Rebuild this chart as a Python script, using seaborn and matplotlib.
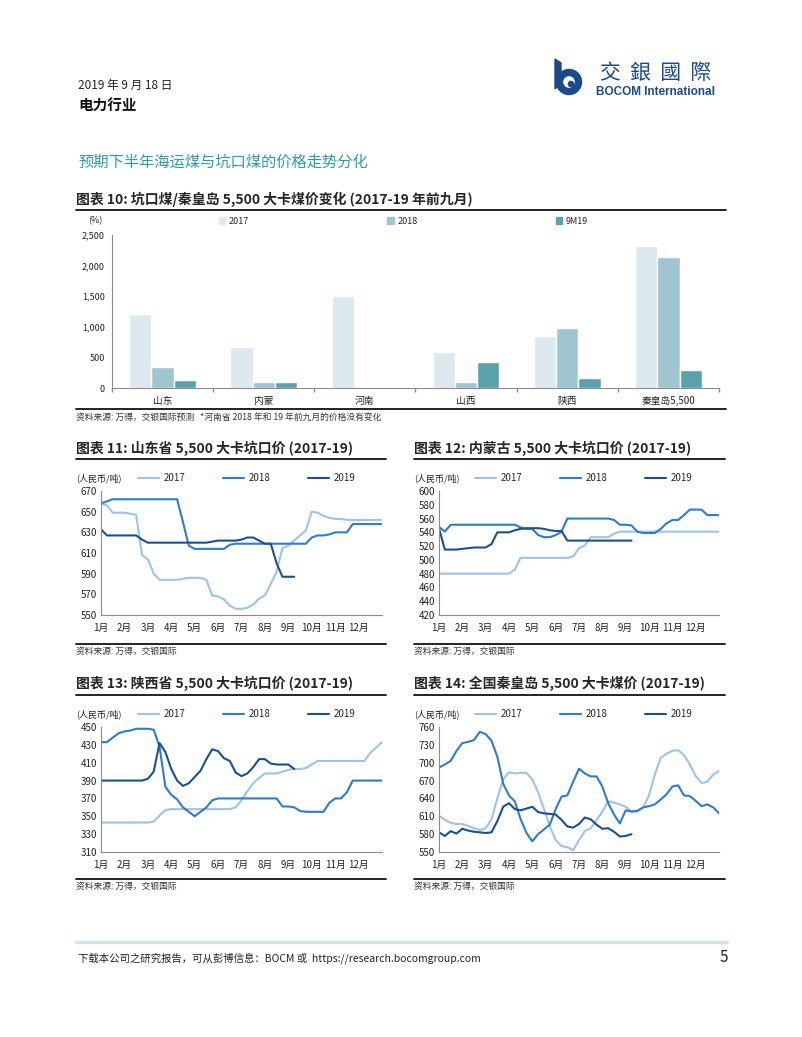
import numpy as np
import pandas as pd
import seaborn as sns
import matplotlib.pyplot as plt
from matplotlib.lines import Line2D
from matplotlib.patches import Patch, Wedge, Circle, Polygon
from matplotlib.ticker import FuncFormatter

# ---- chart 10: price change by region (%)
regions = ['山东', '内蒙', '河南', '山西', '陕西', '秦皇岛5,500']
bar_years = ['2017', '2018', '9M19']
chg_2017 = [1210, 670, 1505, 590, 850, 2315]
chg_2018 = [340, 105, 0, 93, 977, 2148]
chg_9m19 = [125, 105, 0, 427, 160, 302]

# ---- charts 11-14: weekly prices (RMB/t), one point every quarter month
months = ['1月', '2月', '3月', '4月', '5月', '6月', '7月', '8月', '9月', '10月', '11月', '12月']
line_years = ['2017', '2018', '2019']

sd_2017 = [658, 656, 649, 649, 649, 648, 647, 608, 604, 590, 584, 584, 584, 584, 585, 586, 586,
           586, 584, 569, 568, 565, 559, 556, 556, 557, 560, 566, 569, 580, 592, 615, 617, 622,
           627, 632, 650, 649, 646, 644, 643, 643, 642, 642, 642, 642, 642, 642, 642]
sd_2018 = [658, 660] + [662] * 12 + [640, 617] + [614] * 6 + [618] + [619] * 13 + \
          [625, 627, 627, 628, 630, 630, 630, 638] + [638] * 5
sd_2019 = [633] + [627] * 6 + [623] + [620] * 11 + [621] + [622] * 4 + \
          [623, 625, 625, 622, 619, 619, 600, 587, 587, 587]

nm_2017 = [480] * 13 + [486, 503] + [503] * 8 + [505, 517, 521, 533] + [533] * 3 + [538, 541] + [541] * 17
nm_2018 = [548, 541, 551] + [551] * 11 + [547, 545, 545, 536, 533, 533, 536, 541, 560] + [560] * 7 + \
          [558, 551, 551, 550, 541, 539, 539, 539, 545, 553, 558, 558, 565, 573, 573, 573, 565, 565, 565]
nm_2019 = [546, 515, 515, 515, 516, 517, 518, 518, 518, 523, 540, 540, 540, 543, 545, 546, 546,
           546, 545, 543, 542, 542] + [528] * 12

sx_2017 = [343] * 9 + [344, 351, 357] + [358] * 11 + [360, 368, 378, 387, 393, 398, 398, 398, 400,
                                                      402, 403, 403, 404, 408, 412] + [412] * 8 + [421, 427, 433]
sx_2018 = [433, 433, 438, 443, 445, 446, 448, 448, 448, 447, 428, 383, 374, 369, 360, 355, 350, 355,
           360, 368] + [370] * 11 + [361, 361, 360, 356, 355, 355, 355, 355, 365, 370, 370, 377, 390] + [390] * 5
sx_2019 = [390] * 8 + [392, 400, 432, 422, 403, 390, 384, 387, 394, 401, 414, 425, 423, 415, 412, 399,
                       395, 398, 405, 414, 414, 409, 408, 408, 408, 403]

qhd_2017 = [611, 604, 599, 597, 597, 594, 590, 587, 590, 605, 640, 672, 684, 682, 683, 683, 672, 650,
            622, 593, 570, 560, 558, 553, 570, 585, 590, 603, 618, 635, 633, 630, 626, 618, 618, 625,
            645, 680, 708, 715, 720, 721, 713, 697, 678, 666, 668, 680, 686]
qhd_2018 = [692, 697, 703, 720, 733, 735, 738, 752, 748, 737, 710, 665, 645, 635, 605, 582, 568, 580,
            588, 596, 622, 643, 645, 668, 690, 682, 677, 677, 660, 632, 613, 598, 620, 618, 619, 625,
            627, 630, 638, 647, 660, 662, 645, 644, 636, 627, 630, 625, 615]
qhd_2019 = [583, 577, 585, 581, 589, 586, 584, 583, 582, 583, 602, 626, 632, 622, 620, 623, 626, 617,
            615, 614, 613, 604, 593, 591, 597, 608, 605, 596, 589, 590, 584, 576, 577, 580]

bar_colors = ['#dce9ee', '#9fc6d0', '#5ba0ad']
line_colors = ['#9dc3e6', '#2e7bcf', '#1c4f8f']
teal = '#2f9bab'
navy = '#1b4a8a'

sns.set_theme(style='white')
plt.rcParams['font.family'] = ['Noto Sans CJK SC', 'DejaVu Sans']
plt.rcParams['axes.unicode_minus'] = False

W, H = 802, 1037
fig = plt.figure(figsize=(W / 100, H / 100), dpi=100)


def box(x0, y0, x1, y1):
    return [x0 / W, 1 - y1 / H, (x1 - x0) / W, (y1 - y0) / H]


def ftext(x, y, s, **kw):
    kw.setdefault('va', 'center')
    fig.text(x / W, 1 - y / H, s, **kw)


def hline(x0, x1, y, **kw):
    fig.add_artist(Line2D([x0 / W, x1 / W], [1 - y / H] * 2, transform=fig.transFigure, **kw))


def style_axes(ax):
    sns.despine(ax=ax)
    for s in ['left', 'bottom']:
        ax.spines[s].set_color('#8c8c8c')
        ax.spines[s].set_linewidth(0.8)
    ax.set_xlabel('')
    ax.set_ylabel('')


# ---- page header
ftext(78, 85, '2019 年 9 月 18 日', fontsize=8.5, color='#222222')
ftext(78, 106, '电力行业', fontsize=10.5, fontweight='bold', color='#111111')

lg = fig.add_axes(box(552, 57, 584, 97))
lg.set_xlim(0, 32)
lg.set_ylim(40, 0)
lg.set_aspect('equal')
lg.axis('off')
lg.add_patch(Polygon([[3, 2], [9, 6], [9, 26], [3, 32]], closed=True, color=navy))
lg.add_patch(Wedge((17, 25), 12.5, 0, 360, width=6, color=navy))
lg.add_patch(Circle((19, 27), 2.6, color=navy))
ftext(600, 73, '交  銀  國  際', fontsize=15, color=navy, family=['Noto Sans CJK TC', 'DejaVu Sans'])
ftext(596, 92, 'BOCOM International', fontsize=8.5, fontweight='bold', color=navy,
      family=['Liberation Sans', 'DejaVu Sans'])

ftext(78, 162, '预期下半年海运煤与坑口煤的价格走势分化', fontsize=11, color=teal)

# ---- chart 10
ftext(76, 199, '图表 10: 坑口煤/秦皇岛 5,500 大卡煤价变化 (2017-19 年前九月)', fontsize=10, fontweight='bold')
hline(76, 726, 210, color='#111111', lw=1.3)

df_bar = pd.DataFrame({
    'region': regions * 3,
    'year': [y for y in bar_years for _ in regions],
    'value': chg_2017 + chg_2018 + chg_9m19,
})
ax = fig.add_axes(box(112, 235, 719, 388))
sns.barplot(data=df_bar, x='region', y='value', hue='year', palette=dict(zip(bar_years, bar_colors)),
            width=0.66, saturation=1, legend=False, ax=ax)
style_axes(ax)
ax.set_xlim(-0.5, 5.5)
ax.set_ylim(0, 2500)
ax.set_yticks(range(0, 2501, 500))
ax.yaxis.set_major_formatter(FuncFormatter(lambda v, p: f'{int(v):,}'))
ax.tick_params(axis='y', labelsize=6.5, length=3, color='#8c8c8c', pad=2, labelcolor='#222222')
ax.tick_params(axis='x', which='major', labelsize=7, length=0, pad=6, labelcolor='#222222')
ax.set_xticks(np.arange(-0.5, 6), minor=True)
ax.tick_params(axis='x', which='minor', length=3, color='#8c8c8c', bottom=True)
ax.legend([Patch(color=c) for c in bar_colors], bar_years, ncol=3, loc='center left',
          bbox_to_anchor=(219 / W, 1 - 221 / H), bbox_transform=fig.transFigure, frameon=False,
          fontsize=6.5, handlelength=0.7, handleheight=0.7, handletextpad=0.4, columnspacing=15.3,
          borderpad=0, borderaxespad=0)
ftext(88, 221, '(%)', fontsize=6.5, color='#222222')
hline(76, 726, 409, color='#111111', lw=1.3)
ftext(76, 417, '资料来源: 万得，交银国际预测   *河南省 2018 年和 19 年前九月的价格没有变化',
      fontsize=6.3, style='italic', color='#333333')

# ---- charts 11-14
panels = [
    ('图表 11: 山东省 5,500 大卡坑口价 (2017-19)', [sd_2017, sd_2018, sd_2019], (550, 670), 20, 'L', 'T'),
    ('图表 12: 内蒙古 5,500 大卡坑口价 (2017-19)', [nm_2017, nm_2018, nm_2019], (420, 600), 20, 'R', 'T'),
    ('图表 13: 陕西省 5,500 大卡坑口价 (2017-19)', [sx_2017, sx_2018, sx_2019], (310, 450), 20, 'L', 'B'),
    ('图表 14: 全国秦皇岛 5,500 大卡煤价 (2017-19)', [qhd_2017, qhd_2018, qhd_2019], (550, 760), 30, 'R', 'B'),
]
cols = {'L': dict(tx=76, rx=386, ax0=101, ax1=382, lx=138),
        'R': dict(tx=414, rx=725, ax0=439, ax1=719, lx=475)}
rows = {'T': dict(ty=448, ry=459, ly=478, ay0=491, ay1=615, sy=644),
        'B': dict(ty=683, ry=695, ly=714, ay0=727, ay1=852, sy=879)}

for title, series, ylim, step, c, r in panels:
    cc, rr = cols[c], rows[r]
    ftext(cc['tx'], rr['ty'], title, fontsize=10, fontweight='bold')
    hline(cc['tx'], cc['rx'], rr['ry'], color='#111111', lw=1.3)

    df = pd.concat([pd.DataFrame({'month': np.arange(len(v)) / 4, 'price': v, 'year': y})
                    for y, v in zip(line_years, series)], ignore_index=True)
    ax = fig.add_axes(box(cc['ax0'], rr['ay0'], cc['ax1'], rr['ay1']))
    sns.lineplot(data=df, x='month', y='price', hue='year', palette=dict(zip(line_years, line_colors)),
                 linewidth=1.5, legend=False, ax=ax)
    style_axes(ax)
    ax.set_xlim(0, 12)
    ax.set_ylim(*ylim)
    ax.set_yticks(range(ylim[0], ylim[1] + 1, step))
    ax.set_xticks(range(12))
    ax.set_xticklabels(months)
    ax.tick_params(axis='x', labelsize=7, length=3, color='#8c8c8c', pad=3, labelcolor='#222222')
    ax.tick_params(axis='y', labelsize=7, length=0, pad=3, labelcolor='#222222')

    ftext(cc['tx'], rr['ly'], '(人民币/吨)', fontsize=6.5, color='#222222')
    ax.legend([Line2D([], [], color=lc, lw=1.5) for lc in line_colors], line_years, ncol=3,
              loc='center left', bbox_to_anchor=(cc['lx'] / W, 1 - rr['ly'] / H),
              bbox_transform=fig.transFigure, frameon=False, fontsize=7, handlelength=2.2,
              handletextpad=0.4, columnspacing=3.9, borderpad=0, borderaxespad=0)

    hline(cc['tx'], cc['rx'], rr['sy'], color='#111111', lw=1.3)
    ftext(cc['tx'], rr['sy'] + 7, '资料来源: 万得，交银国际', fontsize=6.3, style='italic', color='#333333')

# ---- footer
hline(76, 727, 942, color='#d6e4e9', lw=2.5)
ftext(78, 958, '下载本公司之研究报告，可从彭博信息：BOCM 或  https://research.bocomgroup.com',
      fontsize=7.5, color='#222222')
ftext(720, 958, '5', fontsize=11, color='#222222')

fig.savefig('out.png', dpi=100)
